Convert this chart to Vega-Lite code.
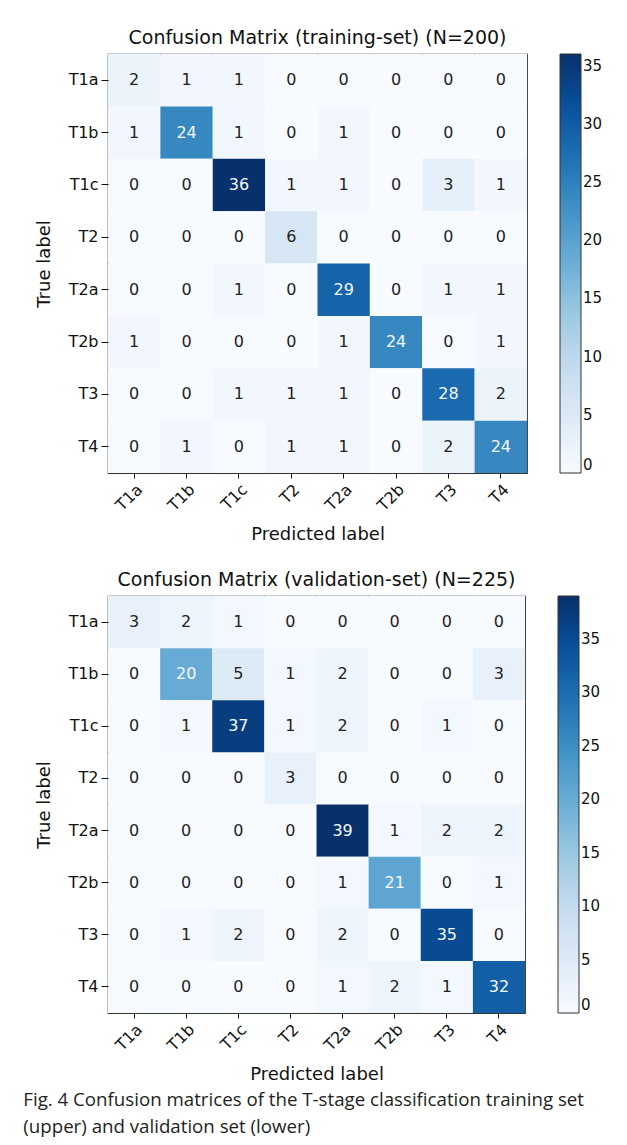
{
  "$schema": "https://vega.github.io/schema/vega-lite/v6.json",
  "padding": {"left": 23, "top": 28, "right": 5, "bottom": 5},
  "background": "white",
  "config": {
    "font": "DejaVu Sans",
    "view": {"stroke": "#333", "strokeWidth": 1.2},
    "axis": {"labelFont": "DejaVu Sans", "labelFontSize": 16, "labelColor": "#111", "titleFont": "DejaVu Sans", "titleFontSize": 18, "titleFontWeight": "normal", "titleColor": "#111", "tickColor": "#111", "tickSize": 5, "labelPadding": 3, "domain": false, "grid": false},
    "axisX": {"labelAngle": -45, "labelAlign": "right", "labelBaseline": "top", "titlePadding": 12},
    "axisY": {"titlePadding": 14, "tickSize": 7},
    "legend": {"gradientLength": 419, "gradientThickness": 21, "labelFont": "DejaVu Sans", "labelFontSize": 15, "labelColor": "#111", "gradientStrokeColor": "#333", "gradientStrokeWidth": 1, "labelOffset": 14, "offset": 33, "padding": 0},
    "title": {"font": "DejaVu Sans", "fontSize": 19, "fontWeight": "normal", "color": "#111", "offset": 6}
  },
  "datasets": {
    "train": [
      {"t":"T1a","p":"T1a","n":2},{"t":"T1a","p":"T1b","n":1},{"t":"T1a","p":"T1c","n":1},{"t":"T1a","p":"T2","n":0},{"t":"T1a","p":"T2a","n":0},{"t":"T1a","p":"T2b","n":0},{"t":"T1a","p":"T3","n":0},{"t":"T1a","p":"T4","n":0},
      {"t":"T1b","p":"T1a","n":1},{"t":"T1b","p":"T1b","n":24},{"t":"T1b","p":"T1c","n":1},{"t":"T1b","p":"T2","n":0},{"t":"T1b","p":"T2a","n":1},{"t":"T1b","p":"T2b","n":0},{"t":"T1b","p":"T3","n":0},{"t":"T1b","p":"T4","n":0},
      {"t":"T1c","p":"T1a","n":0},{"t":"T1c","p":"T1b","n":0},{"t":"T1c","p":"T1c","n":36},{"t":"T1c","p":"T2","n":1},{"t":"T1c","p":"T2a","n":1},{"t":"T1c","p":"T2b","n":0},{"t":"T1c","p":"T3","n":3},{"t":"T1c","p":"T4","n":1},
      {"t":"T2","p":"T1a","n":0},{"t":"T2","p":"T1b","n":0},{"t":"T2","p":"T1c","n":0},{"t":"T2","p":"T2","n":6},{"t":"T2","p":"T2a","n":0},{"t":"T2","p":"T2b","n":0},{"t":"T2","p":"T3","n":0},{"t":"T2","p":"T4","n":0},
      {"t":"T2a","p":"T1a","n":0},{"t":"T2a","p":"T1b","n":0},{"t":"T2a","p":"T1c","n":1},{"t":"T2a","p":"T2","n":0},{"t":"T2a","p":"T2a","n":29},{"t":"T2a","p":"T2b","n":0},{"t":"T2a","p":"T3","n":1},{"t":"T2a","p":"T4","n":1},
      {"t":"T2b","p":"T1a","n":1},{"t":"T2b","p":"T1b","n":0},{"t":"T2b","p":"T1c","n":0},{"t":"T2b","p":"T2","n":0},{"t":"T2b","p":"T2a","n":1},{"t":"T2b","p":"T2b","n":24},{"t":"T2b","p":"T3","n":0},{"t":"T2b","p":"T4","n":1},
      {"t":"T3","p":"T1a","n":0},{"t":"T3","p":"T1b","n":0},{"t":"T3","p":"T1c","n":1},{"t":"T3","p":"T2","n":1},{"t":"T3","p":"T2a","n":1},{"t":"T3","p":"T2b","n":0},{"t":"T3","p":"T3","n":28},{"t":"T3","p":"T4","n":2},
      {"t":"T4","p":"T1a","n":0},{"t":"T4","p":"T1b","n":1},{"t":"T4","p":"T1c","n":0},{"t":"T4","p":"T2","n":1},{"t":"T4","p":"T2a","n":1},{"t":"T4","p":"T2b","n":0},{"t":"T4","p":"T3","n":2},{"t":"T4","p":"T4","n":24}
    ],
    "val": [
      {"t":"T1a","p":"T1a","n":3},{"t":"T1a","p":"T1b","n":2},{"t":"T1a","p":"T1c","n":1},{"t":"T1a","p":"T2","n":0},{"t":"T1a","p":"T2a","n":0},{"t":"T1a","p":"T2b","n":0},{"t":"T1a","p":"T3","n":0},{"t":"T1a","p":"T4","n":0},
      {"t":"T1b","p":"T1a","n":0},{"t":"T1b","p":"T1b","n":20},{"t":"T1b","p":"T1c","n":5},{"t":"T1b","p":"T2","n":1},{"t":"T1b","p":"T2a","n":2},{"t":"T1b","p":"T2b","n":0},{"t":"T1b","p":"T3","n":0},{"t":"T1b","p":"T4","n":3},
      {"t":"T1c","p":"T1a","n":0},{"t":"T1c","p":"T1b","n":1},{"t":"T1c","p":"T1c","n":37},{"t":"T1c","p":"T2","n":1},{"t":"T1c","p":"T2a","n":2},{"t":"T1c","p":"T2b","n":0},{"t":"T1c","p":"T3","n":1},{"t":"T1c","p":"T4","n":0},
      {"t":"T2","p":"T1a","n":0},{"t":"T2","p":"T1b","n":0},{"t":"T2","p":"T1c","n":0},{"t":"T2","p":"T2","n":3},{"t":"T2","p":"T2a","n":0},{"t":"T2","p":"T2b","n":0},{"t":"T2","p":"T3","n":0},{"t":"T2","p":"T4","n":0},
      {"t":"T2a","p":"T1a","n":0},{"t":"T2a","p":"T1b","n":0},{"t":"T2a","p":"T1c","n":0},{"t":"T2a","p":"T2","n":0},{"t":"T2a","p":"T2a","n":39},{"t":"T2a","p":"T2b","n":1},{"t":"T2a","p":"T3","n":2},{"t":"T2a","p":"T4","n":2},
      {"t":"T2b","p":"T1a","n":0},{"t":"T2b","p":"T1b","n":0},{"t":"T2b","p":"T1c","n":0},{"t":"T2b","p":"T2","n":0},{"t":"T2b","p":"T2a","n":1},{"t":"T2b","p":"T2b","n":21},{"t":"T2b","p":"T3","n":0},{"t":"T2b","p":"T4","n":1},
      {"t":"T3","p":"T1a","n":0},{"t":"T3","p":"T1b","n":1},{"t":"T3","p":"T1c","n":2},{"t":"T3","p":"T2","n":0},{"t":"T3","p":"T2a","n":2},{"t":"T3","p":"T2b","n":0},{"t":"T3","p":"T3","n":35},{"t":"T3","p":"T4","n":0},
      {"t":"T4","p":"T1a","n":0},{"t":"T4","p":"T1b","n":0},{"t":"T4","p":"T1c","n":0},{"t":"T4","p":"T2","n":0},{"t":"T4","p":"T2a","n":1},{"t":"T4","p":"T2b","n":2},{"t":"T4","p":"T3","n":1},{"t":"T4","p":"T4","n":32}
    ]
  },
  "title": {
    "text": ["Fig. 4  Confusion matrices of the T-stage classification training set", "(upper) and validation set (lower)"],
    "orient": "bottom", "anchor": "start", "frame": "bounds", "align": "left", "dx": -12,
    "font": "Open Sans", "fontSize": 18.7, "fontWeight": "normal", "color": "#231f20", "lineHeight": 27, "offset": 7
  },
  "spacing": 25,
  "resolve": {"scale": {"color": "independent"}},
  "vconcat": [
    {
      "title": "Confusion Matrix (training-set) (N=200)",
      "width": 419, "height": 419,
      "data": {"name": "train"},
      "encoding": {
        "x": {"field": "p", "type": "nominal", "sort": ["T1a","T1b","T1c","T2","T2a","T2b","T3","T4"], "title": "Predicted label"},
        "y": {"field": "t", "type": "nominal", "sort": ["T1a","T1b","T1c","T2","T2a","T2b","T3","T4"], "title": "True label"}
      },
      "layer": [
        {"mark": "rect", "encoding": {"color": {"field": "n", "type": "quantitative",
          "scale": {"domain": [0,4.5,9,13.5,18,22.5,27,31.5,36], "range": ["#f7fbff","#deebf7","#c6dbef","#9ecae1","#6baed6","#4292c6","#2171b5","#08519c","#08306b"], "interpolate": "rgb"},
          "legend": {"title": null, "values": [0,5,10,15,20,25,30,35]}}}},
        {"mark": {"type": "text", "fontSize": 16, "font": "DejaVu Sans"}, "encoding": {"text": {"field": "n", "type": "quantitative"},
          "color": {"condition": {"test": "datum.n > 18", "value": "#f4f8fc"}, "value": "#222"}}}
      ]
    },
    {
      "title": "Confusion Matrix (validation-set) (N=225)",
      "width": 417, "height": 417,
      "data": {"name": "val"},
      "encoding": {
        "x": {"field": "p", "type": "nominal", "sort": ["T1a","T1b","T1c","T2","T2a","T2b","T3","T4"], "title": "Predicted label"},
        "y": {"field": "t", "type": "nominal", "sort": ["T1a","T1b","T1c","T2","T2a","T2b","T3","T4"], "title": "True label"}
      },
      "layer": [
        {"mark": "rect", "encoding": {"color": {"field": "n", "type": "quantitative",
          "scale": {"domain": [0,4.875,9.75,14.625,19.5,24.375,29.25,34.125,39], "range": ["#f7fbff","#deebf7","#c6dbef","#9ecae1","#6baed6","#4292c6","#2171b5","#08519c","#08306b"], "interpolate": "rgb"},
          "legend": {"title": null, "values": [0,5,10,15,20,25,30,35], "gradientLength": 417}}}},
        {"mark": {"type": "text", "fontSize": 16, "font": "DejaVu Sans"}, "encoding": {"text": {"field": "n", "type": "quantitative"},
          "color": {"condition": {"test": "datum.n > 19.5", "value": "#f4f8fc"}, "value": "#222"}}}
      ]
    }
  ]
}
